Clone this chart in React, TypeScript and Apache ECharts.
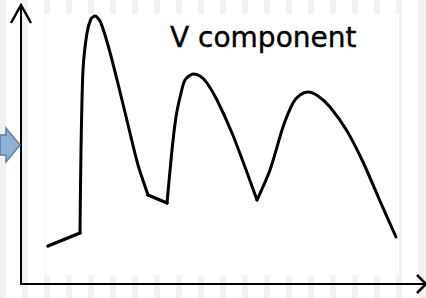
import React, { useEffect, useRef } from "react";
import * as echarts from "echarts";

// Waveform: [time, amplitude] in arbitrary units
const baselineSegment: number[][] = [[27, 38], [59, 51]];
const firstWave: number[][] = [
  [59, 51], [60, 134], [62, 214], [66, 251], [70, 265], [74, 268], [79, 263],
  [84, 249], [91, 224], [101, 184], [109, 151], [117, 119], [127, 89],
];
const plateauSegment: number[][] = [[127, 89], [146, 81]];
const secondWave: number[][] = [
  [146, 81], [151, 134], [155, 167], [160, 191], [164, 204], [172, 210],
  [179, 208], [186, 201], [196, 184], [211, 151], [224, 117], [236, 84],
];
const thirdWave: number[][] = [
  [236, 84], [249, 114], [262, 157], [272, 181], [279, 189], [287, 192],
  [297, 188], [309, 177], [326, 153], [342, 122], [359, 83], [375, 47],
];
const titleText = "V component";

const W = 426;
const H = 298;

export default function App() {
  const ref = useRef<HTMLDivElement>(null);
  useEffect(() => {
    if (!ref.current) return;
    const chart = echarts.init(ref.current, null, { renderer: "svg" });
    const gray = "#f2f2f2";
    const bg: any[] = [];
    // background stripes (slide decoration)
    for (let x = 44; x <= 396; x += 22) {
      bg.push({ type: "rect", z: -10, shape: { x, y: 0, width: 6, height: 14 }, style: { fill: gray } });
      bg.push({ type: "rect", z: -10, shape: { x, y: 275, width: 6, height: 23 }, style: { fill: gray } });
    }
    bg.push({ type: "rect", z: -10, shape: { x: 0, y: 0, width: 6, height: H }, style: { fill: gray } });
    bg.push({ type: "rect", z: -10, shape: { x: 22, y: 0, width: 6, height: H }, style: { fill: gray } });
    bg.push({ type: "rect", z: -10, shape: { x: 399, y: 0, width: 3, height: H }, style: { fill: gray } });
    bg.push({ type: "rect", z: -10, shape: { x: 418, y: 0, width: 8, height: H }, style: { fill: gray } });
    bg.push({ type: "rect", z: -10, shape: { x: 44, y: 14, width: 1, height: 261 }, style: { fill: "#f6f6f6" } });
    // blue arrow at left edge
    bg.push({
      type: "polygon", z: 5,
      shape: { points: [[0, 135], [6, 135], [6, 128], [20, 145], [6, 162], [6, 155], [0, 155]] },
      style: { fill: "#8cb2d6", stroke: "#5f7f9d", lineWidth: 1.5 },
    });
    // axis arrowheads
    bg.push({
      type: "polyline", z: 5,
      shape: { points: [[11, 23], [21, 5], [31, 23]] },
      style: { stroke: "#000", lineWidth: 2.5, fill: null, lineJoin: "miter" },
    });
    bg.push({
      type: "polyline", z: 5,
      shape: { points: [[417, 275], [426, 284], [417, 293]] },
      style: { stroke: "#000", lineWidth: 2.5, fill: null, lineJoin: "miter" },
    });
    bg.push({
      type: "text", z: 5, x: 170, y: 37,
      style: {
        text: titleText,
        fill: "#000",
        font: "28px 'DejaVu Sans'",
        align: "left",
        verticalAlign: "middle",
        stroke: "#000",
        lineWidth: 0.4,
      },
    });

    const lineSeries = (data: number[][], smooth: boolean, width: number) => ({
      type: "line",
      data,
      smooth: smooth ? 0.25 : false,
      showSymbol: false,
      symbol: "none",
      lineStyle: { color: "#000", width, cap: "round", join: "round" },
      z: 3,
    });

    chart.setOption({
      animation: false,
      backgroundColor: "#fff",
      grid: { left: 21, right: 0, top: 5, bottom: 14, containLabel: false },
      xAxis: {
        type: "value", min: 0, max: 405,
        axisLine: { show: true, onZero: false, lineStyle: { color: "#000", width: 2 } },
        axisTick: { show: false }, axisLabel: { show: false }, splitLine: { show: false },
      },
      yAxis: {
        type: "value", min: 0, max: 279,
        axisLine: { show: true, onZero: false, lineStyle: { color: "#000", width: 2 } },
        axisTick: { show: false }, axisLabel: { show: false }, splitLine: { show: false },
      },
      graphic: { elements: bg },
      series: [
        lineSeries(baselineSegment, false, 3.5),
        lineSeries(firstWave, true, 3),
        lineSeries(plateauSegment, false, 3.5),
        lineSeries(secondWave, true, 3),
        lineSeries(thirdWave, true, 3),
      ],
    });
    return () => chart.dispose();
  }, []);
  return (
    <div
      ref={ref}
      style={{ position: "fixed", left: 0, top: 0, width: W, height: H }}
    />
  );
}
